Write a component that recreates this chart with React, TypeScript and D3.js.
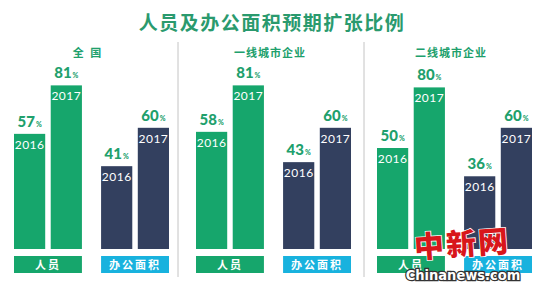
import React from "react";
import * as d3 from "d3";

const title = "人员及办公面积预期扩张比例";
const panels = ["全 国", "一线城市企业", "二线城市企业"];
const groups = ["人员", "办公面积"];
const years = ["2016", "2017"];
// values[panel][group] = [2016, 2017]
const staffValues = [
  [57, 81],
  [58, 81],
  [50, 80],
];
const officeValues = [
  [41, 60],
  [43, 60],
  [36, 60],
];

const W = 540;
const H = 283;
const GREEN = "#16a66c";
const NAVY = "#33405f";
const CYAN = "#18b2de";
const TEXTGREEN = "#20a06c";
const NUMFONT = "Lato, 'Noto Sans', sans-serif";
const CJK = "'Noto Sans CJK SC', 'Noto Sans', sans-serif";

export default function App() {
  const xPanel = d3.scaleBand<string>().domain(panels).range([0, W]);
  const xGroup = d3
    .scaleBand<string>()
    .domain(groups)
    .range([14, 169])
    .paddingInner(0.22);
  const xBar = d3
    .scaleBand<string>()
    .domain(years)
    .range([0, xGroup.bandwidth()])
    .paddingInner(0.15);
  const y = d3.scaleLinear().domain([0, 100]).range([249, 47]);

  const labelTop = 256;
  const labelH = 17;

  return (
    <svg
      width={W}
      height={H}
      style={{ position: "absolute", left: 0, top: 0, background: "#fff" }}
    >
      <rect width={W} height={H} fill="#fff" />
      <text
        x={W / 2 + 2}
        y={30}
        textAnchor="middle"
        fontFamily={CJK}
        fontWeight={700}
        fontSize={19}
        letterSpacing={1.5}
        fill="#2a9a6e"
      >
        {title}
      </text>
      {panels.map((p, pi) => {
        const px = xPanel(p)!;
        const shift = pi === 2 ? 3 : pi === 1 ? 2 : 0;
        return (
          <g key={p} transform={`translate(${px + shift},0)`}>
            {pi > 0 && (
              <line
                x1={pi === 1 ? -4 : 1}
                x2={pi === 1 ? -4 : 1}
                y1={42}
                y2={277}
                stroke="#c4c4c4"
                strokeWidth={1}
              />
            )}
            <text
              x={88}
              y={57}
              textAnchor="middle"
              fontFamily={CJK}
              fontWeight={700}
              fontSize={11}
              letterSpacing={pi === 0 ? 2 : 1}
              fill={TEXTGREEN}
            >
              {p}
            </text>
            {groups.map((g, gi) => {
              const vals = gi === 0 ? staffValues[pi] : officeValues[pi];
              const gx = xGroup(g)!;
              const color = gi === 0 ? GREEN : NAVY;
              return (
                <g key={g} transform={`translate(${gx},0)`}>
                  {years.map((yr, yi) => {
                    const bx = xBar(yr)!;
                    const bw = xBar.bandwidth();
                    const top = y(vals[yi]);
                    return (
                      <g key={yr}>
                        <rect
                          x={bx}
                          y={top}
                          width={bw}
                          height={y(0) - top}
                          fill={color}
                        />
                        <text
                          x={bx + bw / 2}
                          y={top + 15}
                          textAnchor="middle"
                          fontFamily={NUMFONT}
                          fontSize={12}
                          letterSpacing={0.5}
                          fill="#fff"
                        >
                          {yr}
                        </text>
                        <text
                          x={bx + bw / 2}
                          y={top - 7}
                          textAnchor="middle"
                          fontFamily={NUMFONT}
                          fontWeight={900}
                          fill={TEXTGREEN}
                        >
                          <tspan fontSize={15}>{vals[yi]}</tspan>
                          <tspan fontSize={7} dx={1}>
                            %
                          </tspan>
                        </text>
                      </g>
                    );
                  })}
                  <rect
                    x={0}
                    y={labelTop}
                    width={xGroup.bandwidth()}
                    height={labelH}
                    fill={gi === 0 ? GREEN : CYAN}
                  />
                  <text
                    x={xGroup.bandwidth() / 2}
                    y={labelTop + 12.5}
                    textAnchor="middle"
                    fontFamily={CJK}
                    fontWeight={700}
                    fontSize={11}
                    letterSpacing={2}
                    fill="#fff"
                  >
                    {g}
                  </text>
                </g>
              );
            })}
          </g>
        );
      })}
      {/* watermark */}
      <text
        x={462}
        y={255}
        textAnchor="middle"
        fontFamily={CJK}
        fontWeight={900}
        fontSize={30}
        letterSpacing={2}
        fill="#d8161b"
        stroke="#fff"
        strokeWidth={1.5}
        paintOrder="stroke"
        transform="rotate(-4 462 245)"
      >
        中新网
      </text>
      <text
        x={463}
        y={280}
        textAnchor="middle"
        fontFamily="'Liberation Sans Narrow', 'DejaVu Sans Condensed', Roboto, sans-serif"
        fontWeight={700}
        fontSize={14.5}
        fill="#fff"
        stroke="#333"
        strokeWidth={2.5}
        paintOrder="stroke"
      >
        Chinanews.com
      </text>
    </svg>
  );
}
